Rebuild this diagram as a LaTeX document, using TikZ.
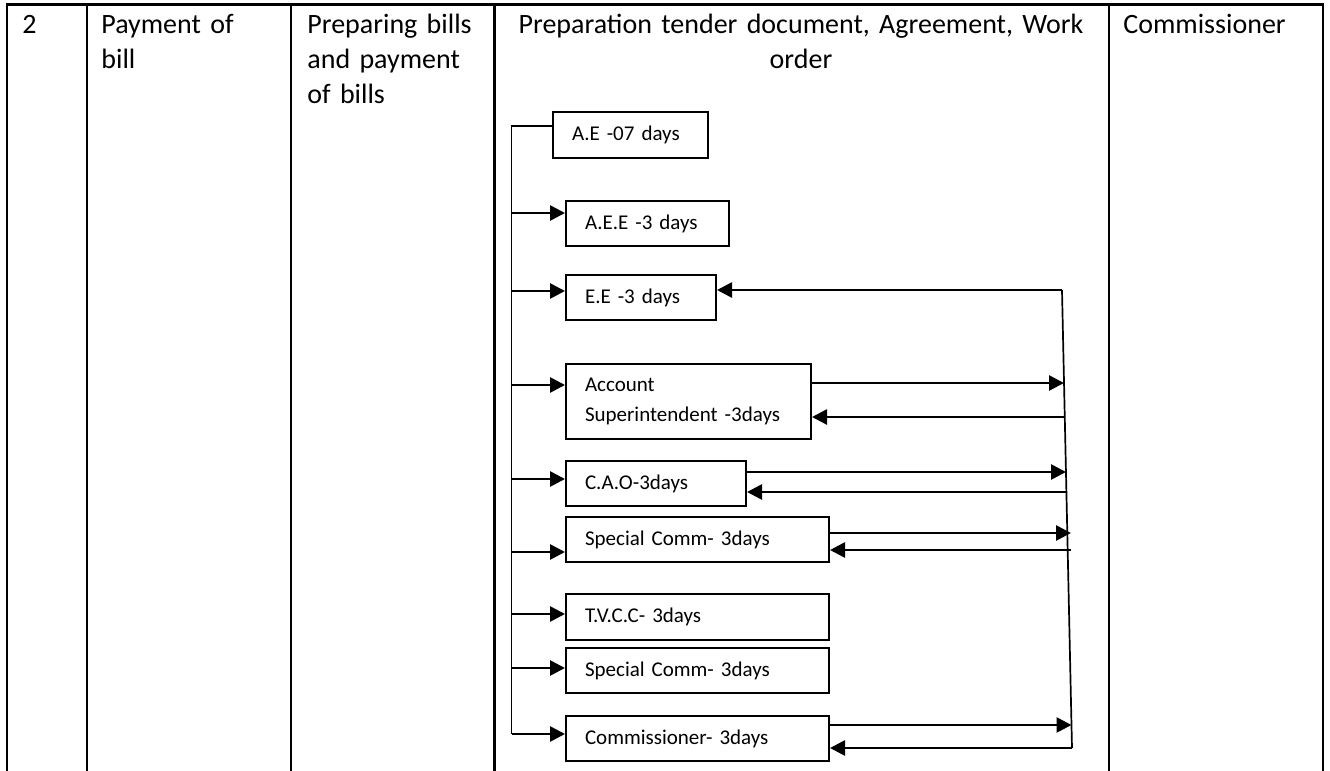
\documentclass[tikz,border=0pt]{standalone}
\usepackage{fontspec}
\setmainfont{Carlito}
\usetikzlibrary{arrows.meta}

\begin{document}
\begin{tikzpicture}[x=5pt,y=-5pt,
  headtext/.style={anchor=base west, inner sep=0pt, align=left, font=\fontsize{14}{17.5}\selectfont},
  stagebox/.style={draw, line width=1pt, anchor=north west, inner xsep=9.5pt, inner ysep=0pt, align=left, font=\fontsize{10.5}{15.3}\selectfont},
  flow/.style={line width=1.35pt, -{Triangle[length=7.5pt,width=7.5pt]}},
  bus/.style={line width=0.85pt}]
\useasboundingbox (0,0) rectangle (133,77.1);

% table lines, no bottom rule
\draw [line width=1.35pt] (0.7,77.1) -- (0.7,0.45) -- (132.3,0.45) -- (132.3,77.1);
\draw [line width=1.35pt] (8.7,0.45) -- (8.7,77.1);
\draw [line width=1.35pt] (29.1,0.45) -- (29.1,77.1);
\draw [line width=1.35pt] (49.45,0.45) -- (49.45,77.1);
\draw [line width=1.35pt] (110.9,0.45) -- (110.9,77.1);

% header row
\node [headtext] (num) at (2.2,3.3) {2};
\node [headtext, text width=90pt] (task) at (10.1,3.3) {Payment of\\bill};
\node [headtext, text width=90pt] (subtask) at (30.7,3.3) {Preparing bills\\and payment\\of bills};
\node [headtext, anchor=base, align=center, text width=300pt] (proc) at (80.1,3.3) {Preparation tender document, Agreement, Work\\order};
\node [headtext] (auth) at (112.3,3.3) {Commissioner};

% stages
\node [stagebox, text width=58.5pt, minimum height=23pt] (ae) at (55.2,11.1) {A.E -07 days};
\node [stagebox, text width=62.5pt, minimum height=22.5pt] (aee) at (56.5,20.0) {A.E.E -3 days};
\node [stagebox, text width=56pt, minimum height=22.5pt] (ee) at (56.5,27.4) {E.E -3 days};
\node [stagebox, text width=103.5pt, minimum height=37.5pt] (acc) at (56.5,36.3) {Account\\Superintendent -3days};
\node [stagebox, text width=71pt, minimum height=22.5pt] (cao) at (56.5,46.0) {C.A.O-3days};
\node [stagebox, text width=112.5pt, minimum height=22.5pt] (sc) at (56.5,51.6) {Special Comm- 3days};
\node [stagebox, text width=112.5pt, minimum height=23pt] (tvcc) at (56.5,59.3) {T.V.C.C- 3days};
\node [stagebox, text width=112.5pt, minimum height=22.5pt] (scb) at (56.5,64.7) {Special Comm- 3days};
\node [stagebox, text width=112.5pt, minimum height=22.5pt] (com) at (56.5,71.5) {Commissioner- 3days};

% left bus
\coordinate (b1) at (51.15,12.6);
\coordinate (b2) at (51.15,21.3);
\coordinate (b3) at (51.15,29.1);
\coordinate (b4) at (51.15,38.5);
\coordinate (b5) at (51.15,47.9);
\coordinate (b6) at (51.15,55.2);
\coordinate (b7) at (51.15,61.4);
\coordinate (b8) at (51.15,66.8);
\coordinate (b9) at (51.15,73.4);

\draw [bus] (b1 -| ae.west) -- (b1) -- (b9);
\draw [flow] (b2) -- (b2 -| aee.west);
\draw [flow] (b3) -- (b3 -| ee.west);
\draw [flow] (b4) -- (b4 -| acc.west);
\draw [flow] (b5) -- (b5 -| cao.west);
\draw [flow] (b6) -- (b6 -| sc.west);
\draw [flow] (b7) -- (b7 -| tvcc.west);
\draw [flow] (b8) -- (b8 -| scb.west);
\draw [flow] (b9) -- (b9 -| com.west);

% right return line
\coordinate (r0) at (106.2,29.0);
\coordinate (r9) at (107.2,74.8);
\coordinate (ra) at (106.4,38.3);
\coordinate (rb) at (106.5,41.7);
\coordinate (rc) at (106.6,47.2);
\coordinate (rd) at (106.65,49.2);
\coordinate (re) at (107.1,53.3);
\coordinate (rf) at (107.1,55.0);
\coordinate (rg) at (107.15,72.5);

\draw [bus] (r0) -- (r9);
\draw [flow] (r0) -- (r0 -| ee.east);
\draw [flow] (ra -| acc.east) -- (ra);
\draw [flow] (rb) -- (rb -| acc.east);
\draw [flow] (rc -| cao.east) -- (rc);
\draw [flow] (rd) -- (rd -| cao.east);
\draw [flow] (re -| sc.east) -- (re);
\draw [flow] (rf) -- (rf -| sc.east);
\draw [flow] (rg -| com.east) -- (rg);
\draw [flow] (r9) -- (r9 -| com.east);
\end{tikzpicture}
\end{document}
